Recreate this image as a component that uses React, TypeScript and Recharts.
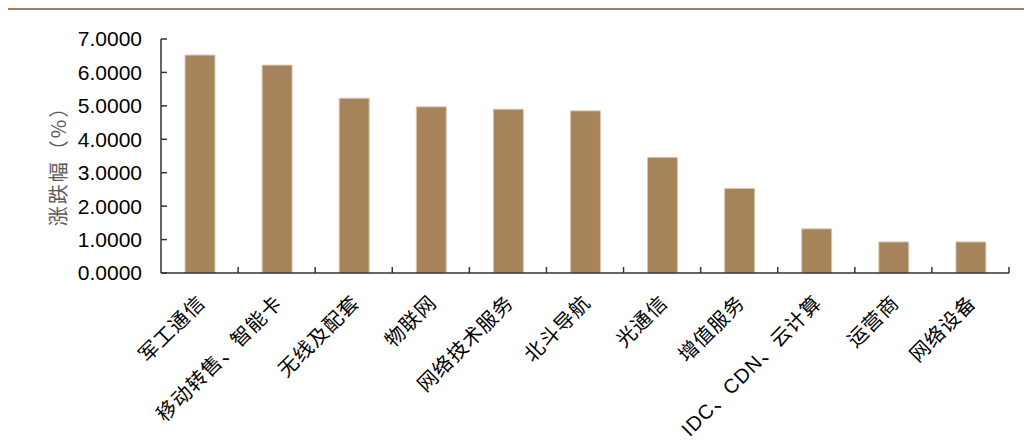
import { BarChart, Bar, XAxis, YAxis } from 'recharts'

const categories = [
  '军工通信',
  '移动转售、智能卡',
  '无线及配套',
  '物联网',
  '网络技术服务',
  '北斗导航',
  '光通信',
  '增值服务',
  'IDC、CDN、云计算',
  '运营商',
  '网络设备',
]

const changes = [6.52, 6.22, 5.23, 4.97, 4.9, 4.85, 3.46, 2.53, 1.32, 0.93, 0.93]

const yTicks = [0, 1, 2, 3, 4, 5, 6, 7]

const data = categories.map((name, i) => ({ name, value: changes[i] }))

const labelFont = "'Liberation Sans', Arial, 'Noto Sans CJK SC', sans-serif"
const axisColor = '#333'

// rotated category label plus a small upward tick at the right edge of its band
function CategoryTick(props: any) {
  const { x, y, payload, width, visibleTicksCount } = props
  const half = width && visibleTicksCount ? width / visibleTicksCount / 2 : payload.offset ?? 0
  return (
    <g>
      <line x1={x + half} x2={x + half} y1={y} y2={y - 6} stroke={axisColor} strokeWidth={1.5} />
      <g transform={`translate(${x + 2},${y + 26})`}>
        <text
          transform="rotate(-45)"
          textAnchor="end"
          dy="0.35em"
          fontSize={20}
          letterSpacing={1}
          fill="#000"
          fontFamily={labelFont}
        >
          {payload.value}
        </text>
      </g>
    </g>
  )
}

export default function App() {
  return (
    <div style={{ width: 1024, height: 435, borderTop: '2px solid #a67f62', boxSizing: 'border-box' }}>
      <BarChart
        width={1024}
        height={433}
        data={data}
        margin={{ top: 29, right: 23, bottom: 0, left: 0 }}
      >
        <XAxis
          dataKey="name"
          interval={0}
          tickLine={false}
          tickSize={0}
          tickMargin={0}
          axisLine={{ stroke: axisColor, strokeWidth: 1.5 }}
          tick={<CategoryTick />}
          height={170}
        />
        <YAxis
          domain={[0, 7]}
          ticks={yTicks}
          interval={0}
          width={153}
          tickFormatter={(v: number) => v.toFixed(4)}
          tickSize={-6}
          tickMargin={25}
          tick={{ fontSize: 21, fill: '#000', fontFamily: "'Liberation Sans', Arial, sans-serif" }}
          axisLine={{ stroke: axisColor, strokeWidth: 1.5 }}
          tickLine={{ stroke: axisColor, strokeWidth: 1.5 }}
          label={{
            value: '涨跌幅（%）',
            angle: -90,
            position: 'center',
            dx: -26,
            dy: 5,
            fontSize: 20,
            letterSpacing: 2,
            fill: '#595959',
            fontFamily: "'Noto Sans CJK SC', sans-serif",
          }}
        />
        <Bar
          dataKey="value"
          barSize={30}
          fill="#a6835b"
          stroke="#dccab4"
          strokeWidth={1}
          isAnimationActive={false}
        />
      </BarChart>
    </div>
  )
}
